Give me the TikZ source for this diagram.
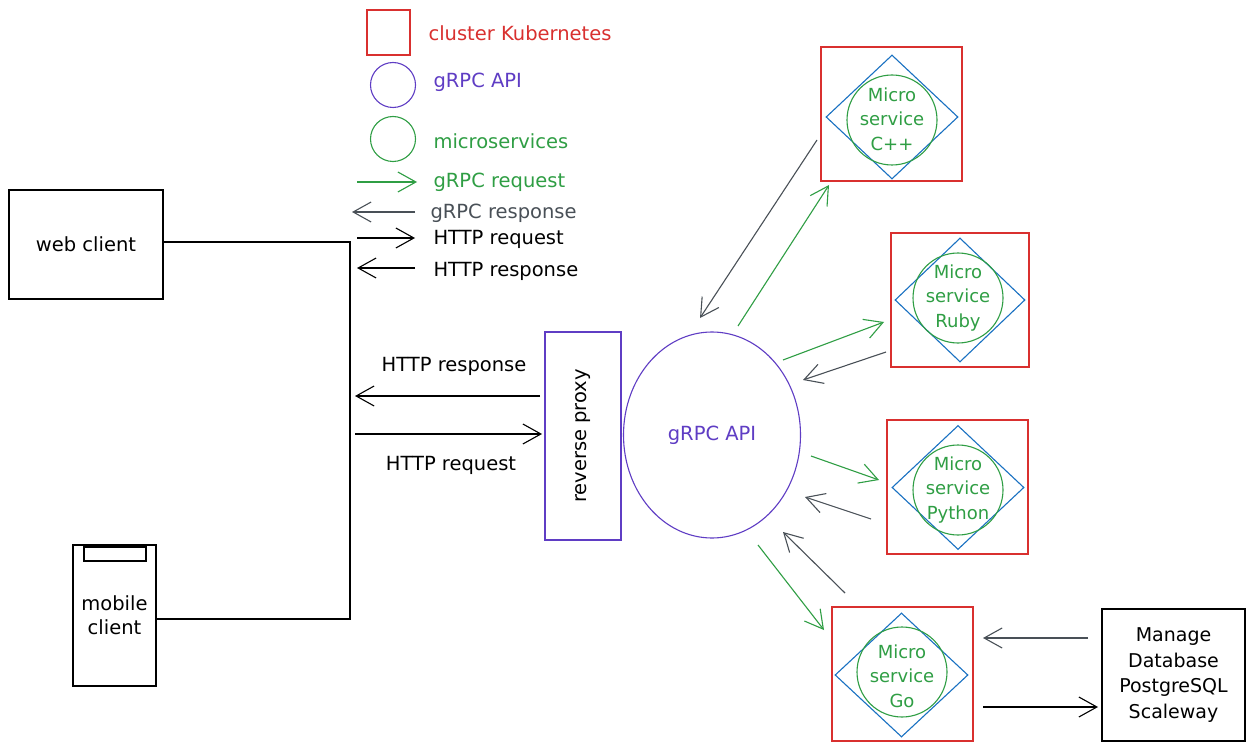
\documentclass[tikz,border=0pt]{standalone}
\usepackage{fontspec}
\setmainfont{DejaVu Sans}
\usetikzlibrary{arrows.meta,shapes.geometric}
\definecolor{kred}{HTML}{D9302F}
\definecolor{kviolet}{HTML}{5F3DC4}
\definecolor{kgreen}{HTML}{2F9E44}
\definecolor{kblue}{HTML}{1971C2}
\definecolor{kgray}{HTML}{495057}
\begin{document}
\begin{tikzpicture}[x=1pt,y=-1pt,line width=1.1pt,
  font=\fontsize{19.5}{24}\selectfont,
  head/.style={-{Straight Barb[length=18pt,width=20pt,line width=1.1pt]}},
  greq/.style={head,draw=kgreen},
  gres/.style={head,draw=kgray},
  hreq/.style={head,draw=black},
  kbox/.style={draw=kred,line width=1.3pt,minimum width=141pt,minimum height=134pt,inner sep=0pt},
  dia/.style={draw=kblue,diamond,minimum width=132pt,minimum height=124pt,inner sep=0pt},
  msc/.style={draw=kgreen,circle,minimum size=90pt,inner sep=0pt},
  mstext/.style={text=kgreen,align=center,font=\fontsize{18}{24.5}\selectfont},
  legtext/.style={anchor=west,inner sep=0pt},
  client/.style={draw=black,align=center,inner sep=0pt}]
\path[fill=white,use as bounding box] (0,0) rectangle (1252,751);

% ---------- legend ----------
\node[draw=kred,line width=1.3pt,minimum width=43pt,minimum height=45pt,inner sep=0pt] (legk) at (388.5,32.5) {};
\node[legtext,text=kred] (legktext) at (428,33) {cluster Kubernetes};
\node[draw=kviolet,circle,minimum size=45pt,inner sep=0pt] (legv) at (393,85) {};
\node[legtext,text=kviolet] (legvtext) at (433,82) {gRPC API};
\node[draw=kgreen,circle,minimum size=45pt,inner sep=0pt] (legg) at (393,139) {};
\node[legtext,text=kgreen] (leggtext) at (433,141) {microservices};
\coordinate (l1s) at (357,182); \coordinate (l1e) at (417,182);
\draw[greq] (l1s) -- (l1e);
\node[legtext,text=kgreen] (l1text) at (433,182) {gRPC request};
\coordinate (l2s) at (415,212); \coordinate (l2e) at (352,212);
\draw[gres] (l2s) -- (l2e);
\node[legtext,text=kgray] (l2text) at (430,213) {gRPC response};
\coordinate (l3s) at (357,238); \coordinate (l3e) at (415,238);
\draw[hreq] (l3s) -- (l3e);
\node[legtext] (l3text) at (433,239) {HTTP request};
\coordinate (l4s) at (415,268); \coordinate (l4e) at (357,268);
\draw[hreq] (l4s) -- (l4e);
\node[legtext] (l4text) at (433,271) {HTTP response};

% ---------- clients ----------
\node[client,minimum width=154pt,minimum height=109pt] (web) at (86,244.5) {web client};
\node[client,minimum width=83pt,minimum height=141pt] (mobile) at (114.5,615.5) {mobile\\client};
\node[draw=black,minimum width=62pt,minimum height=14pt,inner sep=0pt] (notch) at (115,554) {};
\coordinate (j1) at (350,242);
\coordinate (j2) at (350,619);
\draw (web.east |- j1) -- (j1) -- (j2) -- (mobile.east |- j2);

% ---------- proxy and API ----------
\node[draw=kviolet,minimum width=76pt,minimum height=208pt,inner sep=0pt] (proxy) at (583,436) {};
\node[rotate=90] (proxytext) at (proxy.center) {reverse proxy};
\node[draw=kviolet,ellipse,minimum width=177pt,minimum height=206pt,inner sep=0pt,text=kviolet] (api) at (712,435) {gRPC API};

\coordinate (h1s) at (540,396); \coordinate (h1e) at (355,396);
\draw[hreq] (h1s) -- (h1e);
\node (h1text) at (454,366) {HTTP response};
\coordinate (h2s) at (355,434); \coordinate (h2e) at (542,434);
\draw[hreq] (h2s) -- (h2e);
\node (h2text) at (451,465) {HTTP request};

% ---------- microservices ----------
\node[kbox] (cppbox) at (891.5,114) {};
\node[dia] (cppdia) at (892,117) {};
\node[msc] (cppc) at (892,120) {};
\node[mstext] (cppt) at (892,119) {Micro\\service\\C++};

\node[kbox,minimum width=138pt] (rbbox) at (960,300) {};
\node[dia,minimum width=130pt] (rbdia) at (960,300) {};
\node[msc] (rbc) at (958,298) {};
\node[mstext] (rbt) at (958,298) {Micro\\service\\Ruby};

\node[kbox] (pybox) at (957.5,487) {};
\node[dia] (pydia) at (958,487.5) {};
\node[msc] (pyc) at (958,490) {};
\node[mstext] (pyt) at (958,490) {Micro\\service\\Python};

\node[kbox] (gobox) at (902.5,674) {};
\node[dia,minimum width=133pt] (godia) at (901.5,675) {};
\node[msc] (goc) at (902,672) {};
\node[mstext] (got) at (902,676) {Micro\\service\\Go};

\node[client,minimum width=143pt,minimum height=132pt,font=\fontsize{19}{25.5}\selectfont] (db) at (1173.5,675) {Manage\\Database\\PostgreSQL\\Scaleway};

% ---------- gRPC arrows ----------
\coordinate (a1s) at (817,140); \coordinate (a1e) at (700,318);
\draw[gres] (a1s) -- (a1e);
\coordinate (a2s) at (738,326); \coordinate (a2e) at (829,185);
\draw[greq] (a2s) -- (a2e);
\coordinate (a3s) at (783,360); \coordinate (a3e) at (884,322);
\draw[greq] (a3s) -- (a3e);
\coordinate (a4s) at (886,352); \coordinate (a4e) at (803,380);
\draw[gres] (a4s) -- (a4e);
\coordinate (a5s) at (811,456); \coordinate (a5e) at (879,480);
\draw[greq] (a5s) -- (a5e);
\coordinate (a6s) at (871,519); \coordinate (a6e) at (805,497);
\draw[gres] (a6s) -- (a6e);
\coordinate (a7s) at (845,593); \coordinate (a7e) at (783,532);
\draw[gres] (a7s) -- (a7e);
\coordinate (a8s) at (758,545); \coordinate (a8e) at (824,630);
\draw[greq] (a8s) -- (a8e);
\coordinate (d1s) at (1088,638); \coordinate (d1e) at (983,638);
\draw[gres] (d1s) -- (d1e);
\coordinate (d2s) at (983,707); \coordinate (d2e) at (1098,707);
\draw[hreq] (d2s) -- (d2e);
\end{tikzpicture}
\end{document}
